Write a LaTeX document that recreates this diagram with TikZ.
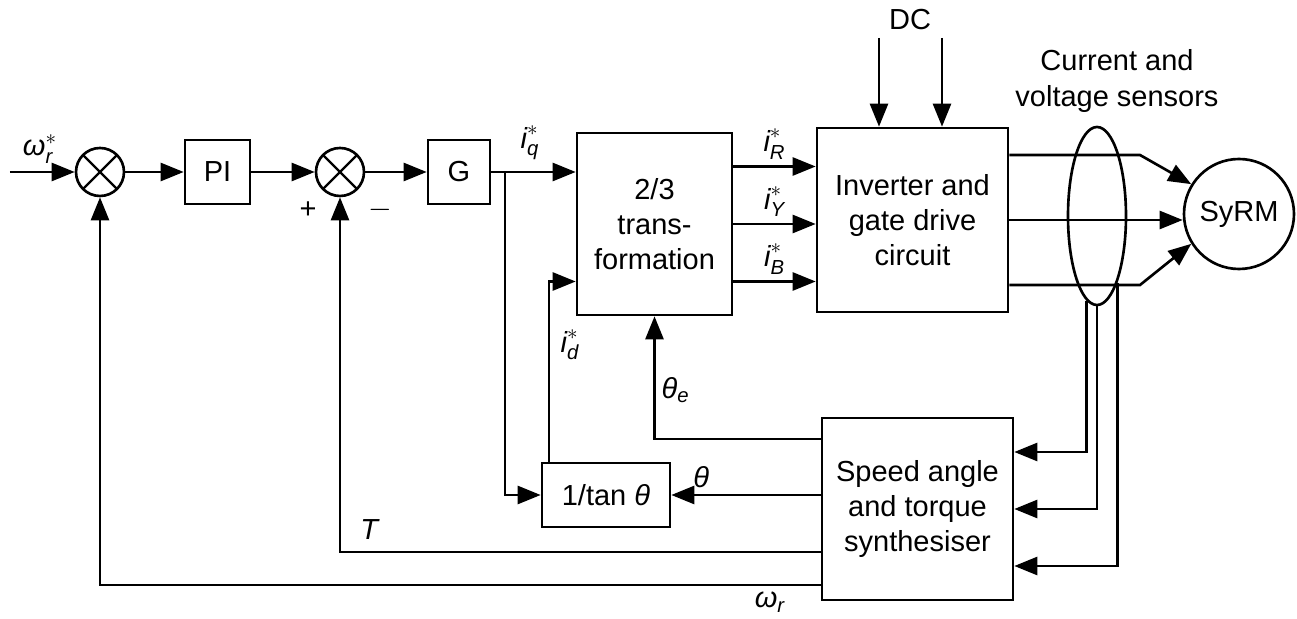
\documentclass[tikz,border=0pt]{standalone}
\usepackage{amsmath}
\usepackage{fontspec}
\setmainfont{Liberation Sans}
\usetikzlibrary{arrows.meta,shapes.geometric}

\begin{document}
\begin{tikzpicture}[
    font=\fontsize{16.5}{20}\selectfont,
    line width=1.5pt,
    block/.style={draw, align=center, inner sep=2pt},
    sumNode/.style={draw, circle, minimum size=0.96cm, inner sep=0pt,
        path picture={\draw[line width=1.3pt]
            (path picture bounding box.north west) -- (path picture bounding box.south east)
            (path picture bounding box.north east) -- (path picture bounding box.south west);}},
    sig/.style={-{Triangle[length=4.6mm,width=3.6mm]}}
]
    \def\mainY{8.94}
    \def\phaseGap{1.15cm}
    \def\motorGap{1.3cm}

    \useasboundingbox (0,0) rectangle (25.94,12.38);

    % Place blocks
    \node[sumNode] (sumSpeed) at (2.0,\mainY) {};
    \node[block, minimum width=1.3cm, minimum height=1.28cm] (piBlock) at (4.35,\mainY) {PI};
    \node[sumNode] (sumTorque) at (6.8,\mainY) {};
    \node[block, minimum width=1.24cm, minimum height=1.28cm] (gBlock) at (9.18,\mainY) {G};
    \node[block, minimum width=3.1cm, minimum height=3.64cm] (transBlock) at (13.09,7.9) {2/3\\trans-\\formation};
    \node[block, minimum width=3.82cm, minimum height=3.68cm] (invBlock) at (18.25,7.98) {Inverter and\\gate drive\\circuit};
    \node[draw, ellipse, minimum width=1.16cm, minimum height=3.56cm, inner sep=0pt] (sensors) at (21.94,8.06) {};
    \node[draw, circle, minimum size=2.2cm, inner sep=0pt] (syrm) at (24.78,8.1) {SyRM};
    \node[block, minimum width=3.82cm, minimum height=3.64cm] (synthBlock) at (18.35,2.2) {Speed angle\\and torque\\synthesiser};
    \node[block, minimum width=2.56cm, minimum height=1.28cm] (tanBlock) at (12.12,2.48) {1/tan \textit{θ}};

    % Free ends
    \coordinate (inStart) at (0.2,\mainY);
    \coordinate (iqBranch) at (10.1,\mainY);
    \coordinate (idX) at (10.98,0);
    \coordinate (dcA) at (17.58,11.62);
    \coordinate (dcB) at (18.84,11.62);
    \coordinate (bendX) at (22.8,0);

    % Speed and torque loop
    \draw[sig] (inStart) -- (sumSpeed);
    \draw[sig] (sumSpeed) -- (piBlock);
    \draw[sig] (piBlock) -- (sumTorque);
    \draw[sig] (sumTorque) -- (gBlock);
    \draw[sig] (gBlock.east) -- (transBlock.west |- gBlock.east);
    \draw[sig] (iqBranch) |- (tanBlock.west);
    \draw[sig] (tanBlock.north -| idX) |- ([yshift=-\phaseGap]transBlock.west);

    % Phase references
    \draw[sig] ([yshift=\phaseGap]transBlock.east) -- ([yshift=\phaseGap]transBlock.east -| invBlock.west)
        node[midway, above] (iRLabel) {$\textit{i}_{\textit{R}}^{*}$};
    \draw[sig] (transBlock.east) -- (transBlock.east -| invBlock.west)
        node[midway, above] (iYLabel) {$\textit{i}_{\textit{Y}}^{*}$};
    \draw[sig] ([yshift=-\phaseGap]transBlock.east) -- ([yshift=-\phaseGap]transBlock.east -| invBlock.west)
        node[midway, above] (iBLabel) {$\textit{i}_{\textit{B}}^{*}$};

    % DC supply
    \draw[sig] (dcA) -- (dcA |- invBlock.north);
    \draw[sig] (dcB) -- (dcB |- invBlock.north);
    \node (dcLabel) at (18.2,11.98) {DC};

    % Motor supply
    \draw[sig] ([yshift=\motorGap]invBlock.east) -- ([yshift=\motorGap]invBlock.east -| bendX) -- (syrm.148);
    \draw[sig] (invBlock.east) -- (syrm.west |- invBlock.east);
    \draw[sig] ([yshift=-\motorGap]invBlock.east) -- ([yshift=-\motorGap]invBlock.east -| bendX) -- (syrm.212);
    \node[align=center] (sensorLabel) at (22.34,10.76) {Current and\\voltage sensors};

    % Sensor feedback
    \draw[sig] (sensors.-97) |- ([yshift=1.14cm]synthBlock.east);
    \draw[sig] (sensors.south) |- (synthBlock.east);
    \draw[sig] (sensors.-73) |- ([yshift=-1.14cm]synthBlock.east);

    % Synthesiser outputs
    \draw[sig] ([yshift=1.4cm]synthBlock.west) -| (transBlock.south)
        node[pos=0.7, right] (thetaELabel) {$\textit{θ}_{\textit{e}}$};
    \draw[sig] (synthBlock.west |- tanBlock.east) -- (tanBlock.east)
        node[pos=0.8, above] (thetaLabel) {\textit{θ}};
    \draw[sig] ([yshift=-0.86cm]synthBlock.west) -| (sumTorque.south);
    \draw[sig] ([yshift=-1.52cm]synthBlock.west) -| (sumSpeed.south);

    % Labels
    \node (wRefLabel) at (0.8,9.4) {$\textit{ω}_{\textit{r}}^{*}$};
    \node (iqLabel) at (10.6,9.52) {$\textit{i}_{\textit{q}}^{*}$};
    \node (idLabel) at (11.4,5.48) {$\textit{i}_{\textit{d}}^{*}$};
    \node (plusLabel) at (6.16,8.18) {+};
    \node (minusLabel) at (7.6,8.18) {$-$};
    \node (tLabel) at (7.4,1.78) {\textit{T}};
    \node (wLabel) at (15.4,0.34) {$\textit{ω}_{\textit{r}}$};

\end{tikzpicture}
\end{document}
